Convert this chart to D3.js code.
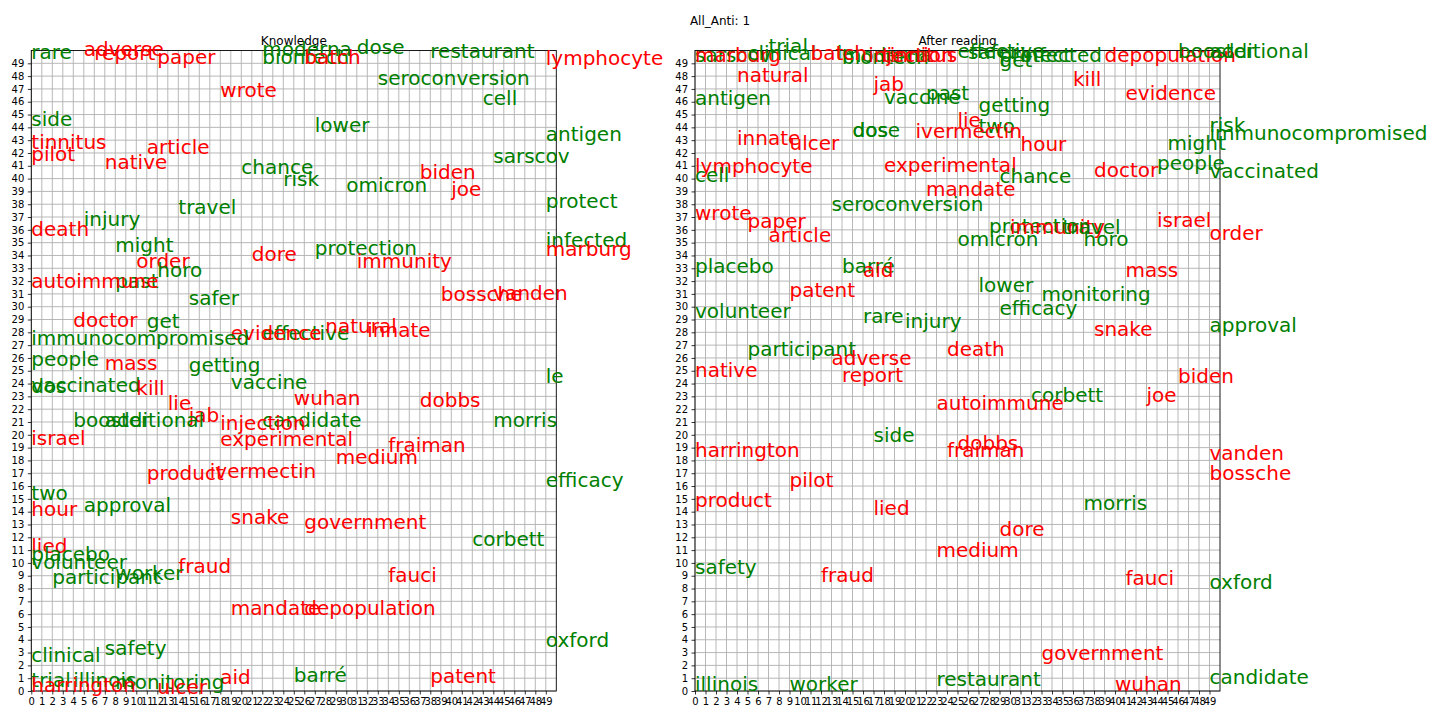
<!DOCTYPE html>
<html>
<head>
<meta charset="utf-8">
<script src="https://cdn.jsdelivr.net/npm/d3@7"></script>
<style>
  html, body { margin: 0; padding: 0; background: #fff; }
  svg { display: block; font-family: "DejaVu Sans", sans-serif; }
</style>
</head>
<body>
<svg id="chart" width="1440" height="720"></svg>
<script>
// ---- data ----
const figureTitle = "All_Anti: 1";
const panelTitles = ["Knowledge", "After reading"];
const tickValues = d3.range(0, 50);
const groups = ["r", "g"];           // r = red words, g = green words

// [word, x, y, group]
const knowledgeWords = [
  ["rare",0,50.0,"g"],["adverse",5,50.2,"r"],["report",6,49.9,"r"],["paper",12,49.6,"r"],
  ["moderna",22,50.2,"g"],["biontech",22,49.6,"g"],["batch",26,49.6,"r"],["dose",31,50.4,"g"],
  ["restaurant",38,50.1,"g"],["lymphocyte",49,49.5,"r"],["seroconversion",33,48.0,"g"],
  ["wrote",18,47.0,"r"],["cell",43,46.4,"g"],["side",0,44.8,"g"],["lower",27,44.3,"g"],
  ["antigen",49,43.6,"g"],["tinnitus",0,43.0,"r"],["pilot",0,42.0,"r"],["article",11,42.6,"r"],
  ["sarscov",44,41.9,"g"],["native",7,41.4,"r"],["chance",20,41.0,"g"],["risk",24,40.1,"g"],
  ["biden",37,40.6,"r"],["omicron",30,39.6,"g"],["joe",40,39.3,"r"],["protect",49,38.4,"g"],
  ["travel",14,37.9,"g"],["injury",5,37.0,"g"],["death",0,36.2,"r"],["infected",49,35.3,"g"],
  ["marburg",49,34.6,"r"],["might",8,34.9,"g"],["protection",27,34.7,"g"],["dore",21,34.2,"r"],
  ["immunity",31,33.7,"r"],["order",10,33.7,"r"],["horo",12,33.0,"g"],["past",8,32.1,"g"],
  ["autoimmune",0,32.1,"r"],["bossche",39,31.1,"r"],["vanden",44,31.2,"r"],["safer",15,30.8,"g"],
  ["doctor",4,29.1,"r"],["get",11,29.0,"g"],["effective",22,28.1,"g"],["evidence",19,28.1,"r"],
  ["natural",28,28.6,"r"],["innate",32,28.3,"r"],["immunocompromised",0,27.7,"g"],
  ["people",0,26.0,"g"],["mass",7,25.7,"r"],["getting",15,25.6,"g"],["le",49,24.7,"g"],
  ["vaccinated",0,24.0,"g"],["dos",0,23.9,"g"],["kill",10,23.8,"r"],["vaccine",19,24.2,"g"],
  ["wuhan",25,23.0,"r"],["dobbs",37,22.8,"r"],["lie",13,22.6,"r"],["jab",15,21.7,"r"],
  ["booster",4,21.3,"g"],["additional",7,21.3,"g"],["candidate",22,21.3,"g"],["injection",18,21.0,"r"],
  ["morris",44,21.3,"g"],["israel",0,19.9,"r"],["experimental",18,19.8,"r"],["fraiman",34,19.3,"r"],
  ["medium",29,18.4,"r"],["ivermectin",17,17.3,"r"],["product",11,17.1,"r"],["efficacy",49,16.6,"g"],
  ["two",0,15.6,"g"],["approval",5,14.6,"g"],["hour",0,14.3,"r"],["snake",19,13.7,"r"],
  ["government",26,13.3,"r"],["corbett",42,12.0,"g"],["lied",0,11.4,"r"],["placebo",0,10.8,"g"],
  ["volunteer",0,10.2,"g"],["fraud",14,9.9,"r"],["worker",8,9.3,"g"],["participant",2,9.0,"g"],
  ["fauci",34,9.2,"r"],["mandate",19,6.6,"r"],["depopulation",26,6.6,"r"],["oxford",49,4.1,"g"],
  ["safety",7,3.5,"g"],["clinical",0,2.9,"g"],["barré",25,1.4,"g"],["aid",18,1.2,"r"],
  ["patent",38,1.3,"r"],["trial",0,1.0,"g"],["illinois",4,1.0,"g"],["monitoring",8,0.8,"g"],
  ["harrington",0,0.6,"r"],["ulcer",12,0.45,"r"]
];

const afterWords = [
  ["sarscov",0,49.8,"g"],["marburg",0,49.8,"r"],["clinical",5,49.9,"g"],["trial",7,50.5,"g"],
  ["le",13.5,49.9,"g"],["biontech",14,49.6,"g"],["moderna",14,49.8,"g"],["batch",11,49.9,"r"],
  ["injection",16.5,49.8,"r"],["tinnitus",17.8,49.8,"r"],["effective",25,50.1,"g"],["safer",26,50.0,"g"],
  ["protect",29,49.75,"g"],["infected",31,49.75,"g"],["get",29,49.4,"g"],["depopulation",39,49.75,"r"],
  ["booster",46,50.1,"g"],["additional",49,50.1,"g"],["natural",4,48.2,"r"],["kill",36,47.9,"r"],
  ["jab",17,47.5,"r"],["vaccine",18,46.5,"g"],["past",22,46.8,"g"],["antigen",0,46.4,"g"],
  ["evidence",41,46.8,"r"],["getting",27,45.9,"g"],["lie",25,44.7,"r"],["two",27,44.2,"g"],
  ["risk",49,44.3,"g"],["ivermectin",21,43.8,"r"],["dose",15,43.9,"g"],["dos",15,43.9,"g"],
  ["immunocompromised",49,43.7,"g"],["innate",4,43.3,"r"],["ulcer",9,42.9,"r"],["hour",31,42.8,"r"],
  ["might",45,42.9,"g"],["people",44,41.3,"g"],["experimental",18,41.2,"r"],["lymphocyte",0,41.1,"r"],
  ["vaccinated",49,40.7,"g"],["doctor",38,40.8,"r"],["cell",0,40.4,"g"],["chance",29,40.3,"g"],
  ["mandate",22,39.3,"r"],["seroconversion",13,38.1,"g"],["wrote",0,37.4,"r"],["paper",5,36.8,"r"],
  ["israel",44,36.9,"r"],["protection",28,36.4,"g"],["immunity",30,36.3,"r"],["travel",35,36.3,"g"],
  ["order",49,35.9,"r"],["article",7,35.7,"r"],["omicron",25,35.4,"g"],["horo",37,35.4,"g"],
  ["placebo",0,33.3,"g"],["barré",14,33.3,"g"],["aid",16,33.0,"r"],["mass",41,33.0,"r"],
  ["lower",27,31.8,"g"],["patent",9,31.4,"r"],["monitoring",33,31.1,"g"],["efficacy",29,30.0,"g"],
  ["volunteer",0,29.75,"g"],["rare",16,29.4,"g"],["injury",20,29.0,"g"],["approval",49,28.7,"g"],
  ["snake",38,28.4,"r"],["death",24,26.8,"r"],["participant",5,26.8,"g"],["adverse",13,26.1,"r"],
  ["native",0,25.2,"r"],["report",14,24.8,"r"],["biden",46,24.7,"r"],["joe",43,23.2,"r"],
  ["corbett",32,23.2,"g"],["autoimmune",23,22.6,"r"],["side",17,20.1,"g"],["dobbs",25,19.5,"r"],
  ["harrington",0,18.9,"r"],["fraiman",24,18.9,"r"],["vanden",49,18.7,"r"],["bossche",49,17.1,"r"],
  ["pilot",9,16.6,"r"],["product",0,15.0,"r"],["morris",37,14.8,"g"],["lied",17,14.4,"r"],
  ["dore",29,12.75,"r"],["medium",23,11.1,"r"],["safety",0,9.8,"g"],["fraud",12,9.2,"r"],
  ["fauci",41,8.9,"r"],["oxford",49,8.65,"g"],["government",33,3.1,"r"],["restaurant",23,1.05,"g"],
  ["candidate",49,1.2,"g"],["illinois",0,0.7,"g"],["worker",9,0.7,"g"],["wuhan",40,0.7,"r"]
];

// ---- drawing ----
const svg = d3.select("#chart");
svg.append("rect").attr("width", 1440).attr("height", 720).attr("fill", "#fff");

const color = d3.scaleOrdinal().domain(groups).range(["#ff0000", "#008000"]);

svg.append("text")
  .attr("x", 720).attr("y", 25)
  .attr("text-anchor", "middle")
  .attr("font-size", 12)
  .attr("fill", "#000")
  .text(figureTitle);

const panels = [
  { title: panelTitles[0], words: knowledgeWords, left: 31.3, right: 556.3 },
  { title: panelTitles[1], words: afterWords, left: 695, right: 1220 }
];
const plotTop = 50.5, plotBottom = 691;

panels.forEach(p => {
  const x = d3.scaleLinear().domain([0, 50]).range([p.left, p.right]);
  const y = d3.scaleLinear().domain([0, 50]).range([plotBottom, plotTop]);
  const g = svg.append("g");

  // grid
  g.append("g").selectAll("line").data(tickValues).join("line")
    .attr("x1", d => x(d)).attr("x2", d => x(d))
    .attr("y1", plotTop).attr("y2", plotBottom)
    .attr("stroke", "#b0b0b0").attr("stroke-width", 0.9);
  g.append("g").selectAll("line").data(tickValues).join("line")
    .attr("y1", d => y(d)).attr("y2", d => y(d))
    .attr("x1", p.left).attr("x2", p.right)
    .attr("stroke", "#b0b0b0").attr("stroke-width", 0.9);

  // axes
  const xAxis = d3.axisBottom(x).tickValues(tickValues).tickSize(3.5).tickPadding(3.5).tickFormat(d3.format("d"));
  const yAxis = d3.axisLeft(y).tickValues(tickValues).tickSize(3.5).tickPadding(3.5).tickFormat(d3.format("d"));
  const gx = g.append("g").attr("transform", `translate(0,${plotBottom})`).call(xAxis);
  const gy = g.append("g").attr("transform", `translate(${p.left},0)`).call(yAxis);
  [gx, gy].forEach(a => {
    a.select(".domain").remove();
    a.selectAll("text").attr("font-size", 10).attr("font-family", "DejaVu Sans").attr("fill", "#000");
    a.selectAll("line").attr("stroke", "#000").attr("stroke-width", 0.8);
  });

  // spines
  g.append("rect")
    .attr("x", p.left).attr("y", plotTop)
    .attr("width", p.right - p.left).attr("height", plotBottom - plotTop)
    .attr("fill", "none").attr("stroke", "#000").attr("stroke-width", 0.9);

  // title
  g.append("text")
    .attr("x", (p.left + p.right) / 2).attr("y", plotTop - 6)
    .attr("text-anchor", "middle").attr("font-size", 12).attr("fill", "#000")
    .text(p.title);

  // words
  g.append("g").selectAll("text").data(p.words).join("text")
    .attr("x", d => x(d[1]))
    .attr("y", d => y(d[2]) + 8.5)
    .attr("font-size", 20)
    .attr("fill", d => color(d[3]))
    .text(d => d[0]);
});
</script>
</body>
</html>
